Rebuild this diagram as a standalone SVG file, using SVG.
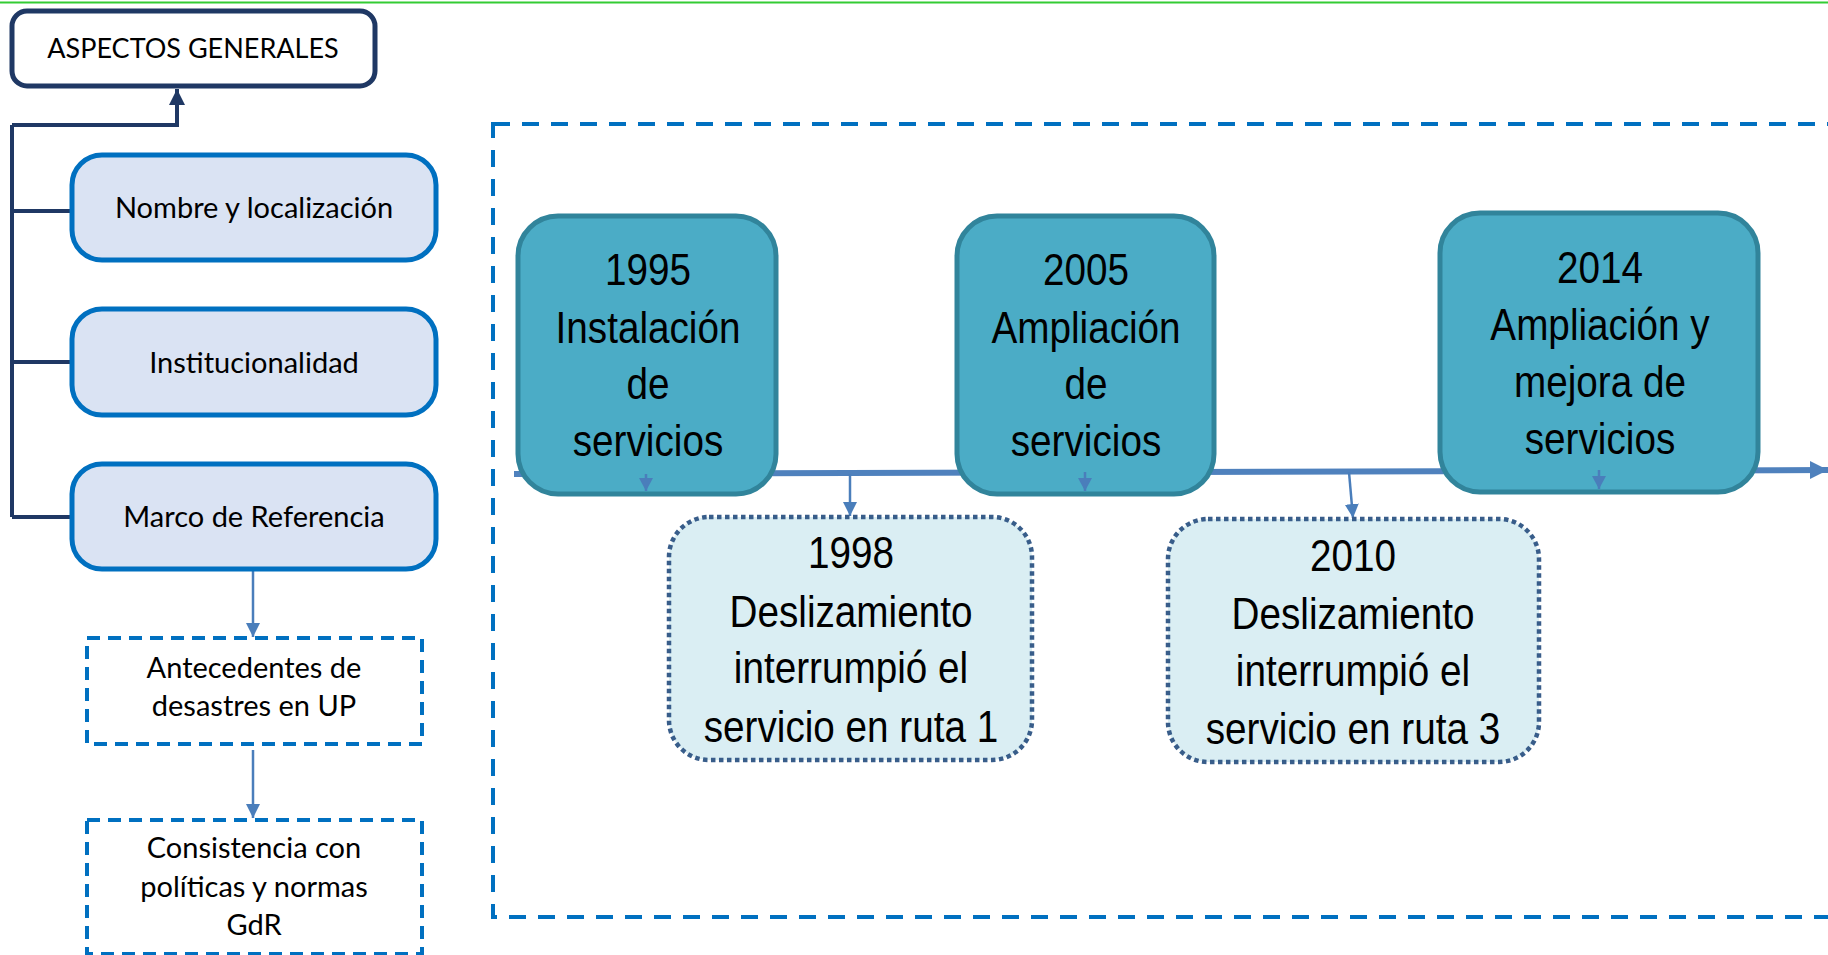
<svg xmlns="http://www.w3.org/2000/svg" width="1828" height="955" viewBox="0 0 1828 955">
<style>
.lbl{font-family:Lato,"Open Sans",sans-serif;font-size:29px;fill:#000;text-anchor:middle}
.tl{font-family:"Liberation Sans",Arial,sans-serif;font-size:45px;fill:#000;text-anchor:middle}
.navy{fill:none;stroke:#1f3864;stroke-width:4}
.thin{fill:none;stroke:#4a7ebb;stroke-width:2.5}
.sec{fill:#dae3f3;stroke:#0070c0;stroke-width:5}
.dash{fill:#fff;stroke:#0070c0;stroke-width:4;stroke-dasharray:13 8}
.ev{fill:#4bacc6;stroke:#31849b;stroke-width:5}
.dot{fill:#daeef3;stroke:#385d8a;stroke-width:4.5;stroke-dasharray:4.5 3.5}
</style>
<defs>
<marker id="hNavy" markerUnits="userSpaceOnUse" markerWidth="18" markerHeight="16" refX="16" refY="8" orient="auto"><path d="M0,0 L16,8 L0,16 z" fill="#1f3864"/></marker>
<marker id="hBlue" markerUnits="userSpaceOnUse" markerWidth="16" markerHeight="14" refX="14" refY="7" orient="auto"><path d="M0,0 L14,7 L0,14 z" fill="#4a7ebb"/></marker>
<marker id="hSmall" markerUnits="userSpaceOnUse" markerWidth="14" markerHeight="14" refX="13" refY="7" orient="auto"><path d="M0,0 L13,7 L0,14 z" fill="#4a7ebb"/></marker>
<marker id="hBig" markerUnits="userSpaceOnUse" markerWidth="20" markerHeight="20" refX="18" refY="9" orient="auto"><path d="M0,0 L18,9 L0,18 z" fill="#4f81bd"/></marker>
</defs>
<rect x="0" y="0" width="1828" height="955" fill="#fff"/>
<line x1="0" y1="2.5" x2="1828" y2="2.5" stroke="#33cc33" stroke-width="2"/>

<g id="container">
<rect x="493" y="124" width="1360" height="793" fill="none" stroke="#0070c0" stroke-width="4" stroke-dasharray="17 12"/>
</g>

<g id="connectors">
<path class="navy" d="M12,125 L12,517 M12,211 L72,211 M12,362 L72,362 M12,517 L72,517"/>
<path class="navy" d="M12,125 L177,125 L177,89" marker-end="url(#hNavy)"/>
<line class="thin" x1="253" y1="571" x2="253" y2="637" marker-end="url(#hBlue)"/>
<line class="thin" x1="253" y1="750" x2="253" y2="818" marker-end="url(#hBlue)"/>
<line x1="514" y1="474" x2="1828" y2="470" stroke="#4f81bd" stroke-width="6" marker-end="url(#hBig)"/>
<line class="thin" x1="850" y1="474" x2="850" y2="516" marker-end="url(#hBlue)"/>
<line class="thin" x1="1349" y1="472" x2="1353" y2="518" marker-end="url(#hBlue)"/>
</g>

<g id="aspectos">
<rect x="12" y="11" width="363" height="75" rx="15" fill="#fff" stroke="#1f3864" stroke-width="5"/>
<text class="lbl" x="193" y="58" style="font-size:27px">ASPECTOS GENERALES</text>
</g>
<g id="nombre">
<rect class="sec" x="72" y="155" width="364" height="105" rx="30"/>
<text class="lbl" x="254" y="218">Nombre y localización</text>
</g>
<g id="institucionalidad">
<rect class="sec" x="72" y="309" width="364" height="106" rx="30"/>
<text class="lbl" x="254" y="373">Institucionalidad</text>
</g>
<g id="marco">
<rect class="sec" x="72" y="464" width="364" height="105" rx="30"/>
<text class="lbl" x="254" y="527">Marco de Referencia</text>
</g>
<g id="antecedentes">
<rect class="dash" x="87" y="638" width="335" height="106"/>
<text class="lbl" x="254" y="678">Antecedentes de</text>
<text class="lbl" x="254" y="716">desastres en UP</text>
</g>
<g id="consistencia">
<rect class="dash" x="87" y="820" width="335" height="134"/>
<text class="lbl" x="254" y="858">Consistencia con</text>
<text class="lbl" x="254" y="897">políticas y normas</text>
<text class="lbl" x="254" y="935">GdR</text>
</g>

<g id="ev1995">
<rect class="ev" x="518" y="216" width="258" height="278" rx="40"/>
<g transform="translate(648,0) scale(0.86,1)">
<text class="tl" x="0" y="285">1995</text>
<text class="tl" x="0" y="343">Instalación</text>
<text class="tl" x="0" y="399">de</text>
<text class="tl" x="0" y="456">servicios</text>
</g>
</g>
<g id="ev2005">
<rect class="ev" x="957" y="216" width="257" height="278" rx="40"/>
<g transform="translate(1086,0) scale(0.86,1)">
<text class="tl" x="0" y="285">2005</text>
<text class="tl" x="0" y="343">Ampliación</text>
<text class="tl" x="0" y="399">de</text>
<text class="tl" x="0" y="456">servicios</text>
</g>
</g>
<g id="ev2014">
<rect class="ev" x="1440" y="213" width="318" height="279" rx="40"/>
<g transform="translate(1600,0) scale(0.86,1)">
<text class="tl" x="0" y="283">2014</text>
<text class="tl" x="0" y="340">Ampliación y</text>
<text class="tl" x="0" y="397">mejora de</text>
<text class="tl" x="0" y="454">servicios</text>
</g>
</g>
<g id="ev1998">
<rect class="dot" x="669" y="517" width="363" height="243" rx="40"/>
<g transform="translate(851,0) scale(0.86,1)">
<text class="tl" x="0" y="568">1998</text>
<text class="tl" x="0" y="627">Deslizamiento</text>
<text class="tl" x="0" y="683">interrumpió el</text>
<text class="tl" x="0" y="742">servicio en ruta 1</text>
</g>
</g>
<g id="ev2010">
<rect class="dot" x="1168" y="519" width="371" height="243" rx="40"/>
<g transform="translate(1353,0) scale(0.86,1)">
<text class="tl" x="0" y="571">2010</text>
<text class="tl" x="0" y="629">Deslizamiento</text>
<text class="tl" x="0" y="686">interrumpió el</text>
<text class="tl" x="0" y="744">servicio en ruta 3</text>
</g>
</g>

<g id="connectors-front">
<line class="thin" x1="646" y1="474" x2="646" y2="491" marker-end="url(#hSmall)"/>
<line class="thin" x1="1085" y1="472" x2="1085" y2="491" marker-end="url(#hSmall)"/>
<line class="thin" x1="1599" y1="470" x2="1599" y2="489" marker-end="url(#hSmall)"/>
</g>
</svg>
